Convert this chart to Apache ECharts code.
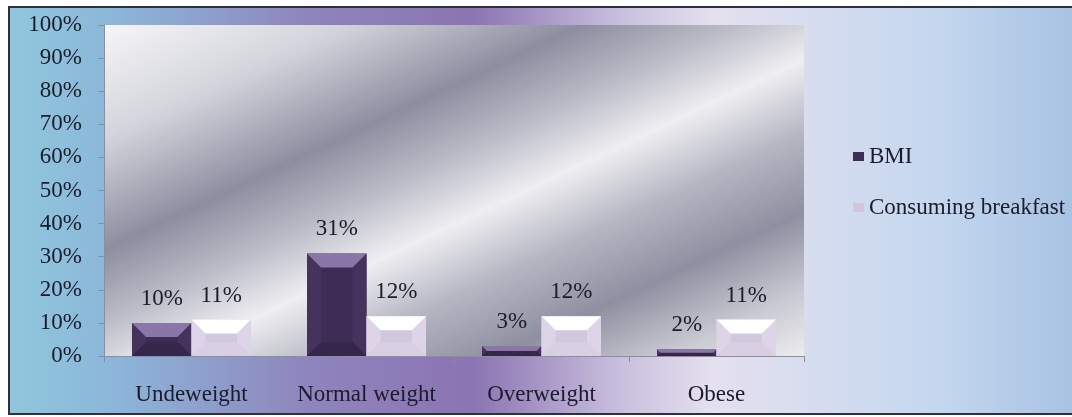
<!DOCTYPE html>
<html>
<head>
<meta charset="utf-8">
<script src="https://cdn.jsdelivr.net/npm/echarts@6/dist/echarts.min.js"></script>
<style>
  html, body { margin: 0; padding: 0; background: #fff; }
  #chart { width: 1072px; height: 417px; }
</style>
</head>
<body>
<div id="chart"></div>
<script>
const categories = ['Undeweight', 'Normal weight', 'Overweight', 'Obese'];
const bmi = [10, 31, 3, 2];
const breakfast = [11, 12, 12, 11];
const seriesNames = ['BMI', 'Consuming breakfast'];

const FONT = '"Liberation Serif", "Times New Roman", serif';
const TEXT = '#1b1b2a';

// bevel colours per series
const palettes = [
    { face: '#3e2c57', side: '#45335e', top: '#8b77a7', bottom: '#35274b', legend: '#3e2c57' },
    { face: '#d1c8de', side: '#ddd5e7', top: '#ffffff', bottom: '#d8cfe3', legend: '#cfc8da' }
];

function bevelBar(side, pal) {
    return function (params, api) {
        const cat = api.value(0);
        const v = api.value(1);
        const topPt = api.coord([cat, v]);
        const basePt = api.coord([cat, 0]);
        const band = api.size([1, 0])[0];
        const w = band * 0.34;
        const x0 = side === 0 ? topPt[0] - w : topPt[0];
        const x1 = x0 + w;
        const y0 = topPt[1], y1 = basePt[1];
        const h = y1 - y0;
        const b = Math.min(14, h / 2);
        return {
            type: 'group',
            children: [
                { type: 'rect', shape: { x: x0, y: y0, width: w, height: h }, style: { fill: pal.face } },
                { type: 'polygon', shape: { points: [[x0, y0], [x0 + b, y0 + b], [x0 + b, y1 - b], [x0, y1]] }, style: { fill: pal.side } },
                { type: 'polygon', shape: { points: [[x1, y0], [x1 - b, y0 + b], [x1 - b, y1 - b], [x1, y1]] }, style: { fill: pal.side } },
                { type: 'polygon', shape: { points: [[x0, y1], [x1, y1], [x1 - b, y1 - b], [x0 + b, y1 - b]] }, style: { fill: pal.bottom } },
                { type: 'polygon', shape: { points: [[x0, y0], [x1, y0], [x1 - b, y0 + b], [x0 + b, y0 + b]] }, style: { fill: pal.top } },
                {
                    type: 'text',
                    x: (x0 + x1) / 2,
                    y: y0 - 24,
                    style: { text: v + '%', textAlign: 'center', textVerticalAlign: 'middle', font: '23px ' + FONT, fill: TEXT }
                }
            ]
        };
    };
}

let chart = echarts.init(document.getElementById('chart'));
chart.setOption({
    backgroundColor: '#ffffff',
    animation: false,
    graphic: [
        {
            type: 'rect',
            z: -10,
            shape: { x: 9, y: 7, width: 1080, height: 407 },
            style: {
                fill: new echarts.graphic.LinearGradient(0, 0, 1, 0, [
                    { offset: 0, color: '#8fc7dd' },
                    { offset: 0.1, color: '#8cb6d9' },
                    { offset: 0.28, color: '#8f84bd' },
                    { offset: 0.43, color: '#8b74b2' },
                    { offset: 0.56, color: '#c6bcdc' },
                    { offset: 0.65, color: '#e5e0ef' },
                    { offset: 0.76, color: '#d4dcef' },
                    { offset: 0.86, color: '#c4d7ef' },
                    { offset: 1, color: '#a4c0e0' }
                ]),
                stroke: '#2b3142',
                lineWidth: 2
            }
        }
    ],
    legend: {
        orient: 'vertical',
        left: 848,
        top: 140,
        itemWidth: 11,
        itemHeight: 9,
        itemGap: 28,
        icon: 'rect',
        data: seriesNames,
        textStyle: { fontFamily: FONT, fontSize: 23, color: TEXT, lineHeight: 22 }
    },
    grid: {
        left: 104,
        right: 268,
        top: 25,
        bottom: 61,
        show: true,
        borderWidth: 0,
        // gradient vector chosen so the bands run low-left to up-right along the diagonal
        backgroundColor: new echarts.graphic.LinearGradient(0, 0, 0.364, 1.637, [
            { offset: 0, color: '#f6f6f8' },
            { offset: 0.17, color: '#d4d5dc' },
            { offset: 0.34, color: '#8c8ea0' },
            { offset: 0.45, color: '#bbbcc7' },
            { offset: 0.55, color: '#efeff2' },
            { offset: 0.66, color: '#b5b6c2' },
            { offset: 0.78, color: '#8e90a1' },
            { offset: 0.9, color: '#c9cad2' },
            { offset: 1, color: '#ededf0' }
        ])
    },
    xAxis: {
        type: 'category',
        data: categories,
        axisLine: { lineStyle: { color: '#8d8d9c', width: 1 } },
        axisTick: { show: true, length: 6, lineStyle: { color: '#8d8d9c' } },
        axisLabel: { interval: 0, margin: 27, fontFamily: FONT, fontSize: 23, color: TEXT }
    },
    yAxis: {
        type: 'value',
        min: 0,
        max: 100,
        interval: 10,
        splitLine: { show: false },
        axisLine: { show: true, lineStyle: { color: '#8d8d9c', width: 1 } },
        axisTick: { show: true, length: 6, lineStyle: { color: '#8d8d9c' } },
        axisLabel: { margin: 22, formatter: '{value}%', fontFamily: FONT, fontSize: 23, color: TEXT }
    },
    series: [
        {
            name: seriesNames[0],
            type: 'custom',
            itemStyle: { color: palettes[0].legend },
            renderItem: bevelBar(0, palettes[0]),
            encode: { x: 0, y: 1 },
            data: bmi.map((v, i) => [i, v])
        },
        {
            name: seriesNames[1],
            type: 'custom',
            itemStyle: { color: palettes[1].legend },
            renderItem: bevelBar(1, palettes[1]),
            encode: { x: 0, y: 1 },
            data: breakfast.map((v, i) => [i, v])
        }
    ]
});
window.onresize = function () {
    chart.resize();
};
</script>
</body>
</html>
